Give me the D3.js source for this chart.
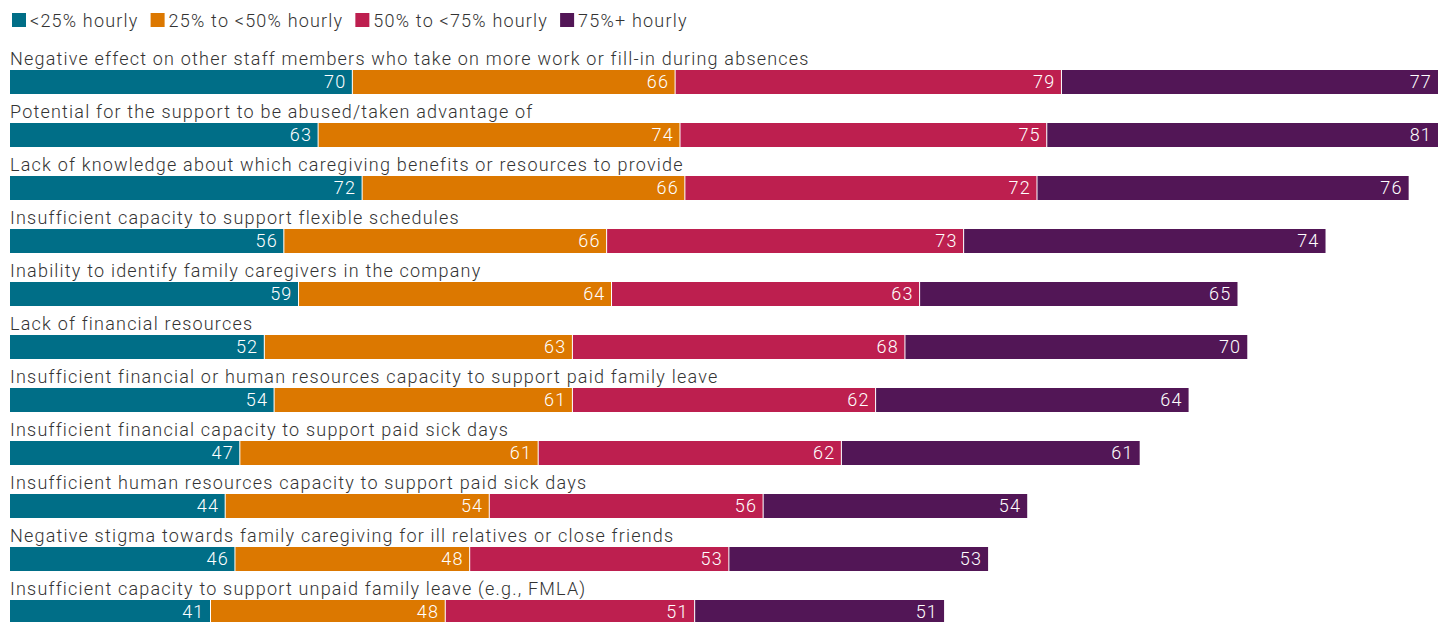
<!DOCTYPE html>
<html>
<head>
<meta charset="utf-8">
<script src="https://cdn.jsdelivr.net/npm/d3@7"></script>
<style>
  html, body { margin: 0; padding: 0; background: #fff; }
  #chart { width: 1438px; height: 622px; overflow: hidden; }
  text { font-family: Roboto, "Noto Sans", sans-serif; font-weight: 300; letter-spacing: 1.2px; }
</style>
</head>
<body>
<div id="chart"></div>
<script>
// ---------- data ----------
const categories = [
  "Negative effect on other staff members who take on more work or fill-in during absences",
  "Potential for the support to be abused/taken advantage of",
  "Lack of knowledge about which caregiving benefits or resources to provide",
  "Insufficient capacity to support flexible schedules",
  "Inability to identify family caregivers in the company",
  "Lack of financial resources",
  "Insufficient financial or human resources capacity to support paid family leave",
  "Insufficient financial capacity to support paid sick days",
  "Insufficient human resources capacity to support paid sick days",
  "Negative stigma towards family caregiving for ill relatives or close friends",
  "Insufficient capacity to support unpaid family leave (e.g., FMLA)"
];
const seriesNames = ["<25% hourly", "25% to <50% hourly", "50% to <75% hourly", "75%+ hourly"];
const under25 = [70, 63, 72, 56, 59, 52, 54, 47, 44, 46, 41];
const from25to50 = [66, 74, 66, 66, 64, 63, 61, 61, 54, 48, 48];
const from50to75 = [79, 75, 72, 73, 63, 68, 62, 62, 56, 53, 51];
const over75 = [77, 81, 76, 74, 65, 70, 64, 61, 54, 53, 51];
const colors = ["#006e87", "#dc7800", "#bd1f4f", "#521656"];

// ---------- layout ----------
const width = 1438, height = 622;
const left = 10;
const rowTop = 70, rowStep = 53, barH = 24;

const svg = d3.select("#chart").append("svg")
  .attr("width", width)
  .attr("height", height);

const rows = categories.map((c, i) => ({
  name: c,
  vals: [under25[i], from25to50[i], from50to75[i], over75[i]]
}));

const stacked = d3.stack().keys([0, 1, 2, 3]).value((d, k) => d.vals[k])(rows);

const x = d3.scaleLinear().domain([0, 292]).range([left, width]);
const y = d3.scaleBand().domain(d3.range(categories.length))
  .range([rowTop, rowTop + rowStep * categories.length]);

// legend
const legend = svg.append("g").attr("transform", "translate(12,13)");
let lx = 0;
seriesNames.forEach((s, i) => {
  const g = legend.append("g").attr("transform", `translate(${lx},0)`);
  g.append("rect").attr("width", 14).attr("height", 14).attr("fill", colors[i]);
  const t = g.append("text").attr("x", 18).attr("y", 14)
    .attr("font-size", 18).attr("fill", "#333").text(s);
  lx += 18 + t.node().getComputedTextLength() + 12;
});

// category labels
svg.selectAll("text.cat").data(rows).enter().append("text")
  .attr("class", "cat")
  .attr("x", left)
  .attr("y", (d, i) => y(i) - 5)
  .attr("font-size", 18)
  .attr("fill", "#333")
  .text(d => d.name);

// bars
const layer = svg.selectAll("g.layer").data(stacked).enter().append("g")
  .attr("class", "layer")
  .attr("fill", (d, i) => colors[i]);

layer.selectAll("rect").data(d => d).enter().append("rect")
  .attr("x", d => x(d[0]))
  .attr("y", (d, i) => y(i))
  .attr("width", d => x(d[1]) - x(d[0]))
  .attr("height", barH);

// thin white separators between segments
layer.filter((d, i) => i > 0).selectAll("line").data(d => d).enter().append("line")
  .attr("x1", d => x(d[0])).attr("x2", d => x(d[0]))
  .attr("y1", (d, i) => y(i)).attr("y2", (d, i) => y(i) + barH)
  .attr("stroke", "#fff").attr("stroke-width", 1);

// value labels
layer.selectAll("text").data(d => d).enter().append("text")
  .attr("x", d => Math.min(x(d[1]), width) - 6)
  .attr("y", (d, i) => y(i) + 18)
  .attr("text-anchor", "end")
  .attr("font-size", 18)
  .attr("fill", "#fff")
  .text(d => d[1] - d[0]);
</script>
</body>
</html>
